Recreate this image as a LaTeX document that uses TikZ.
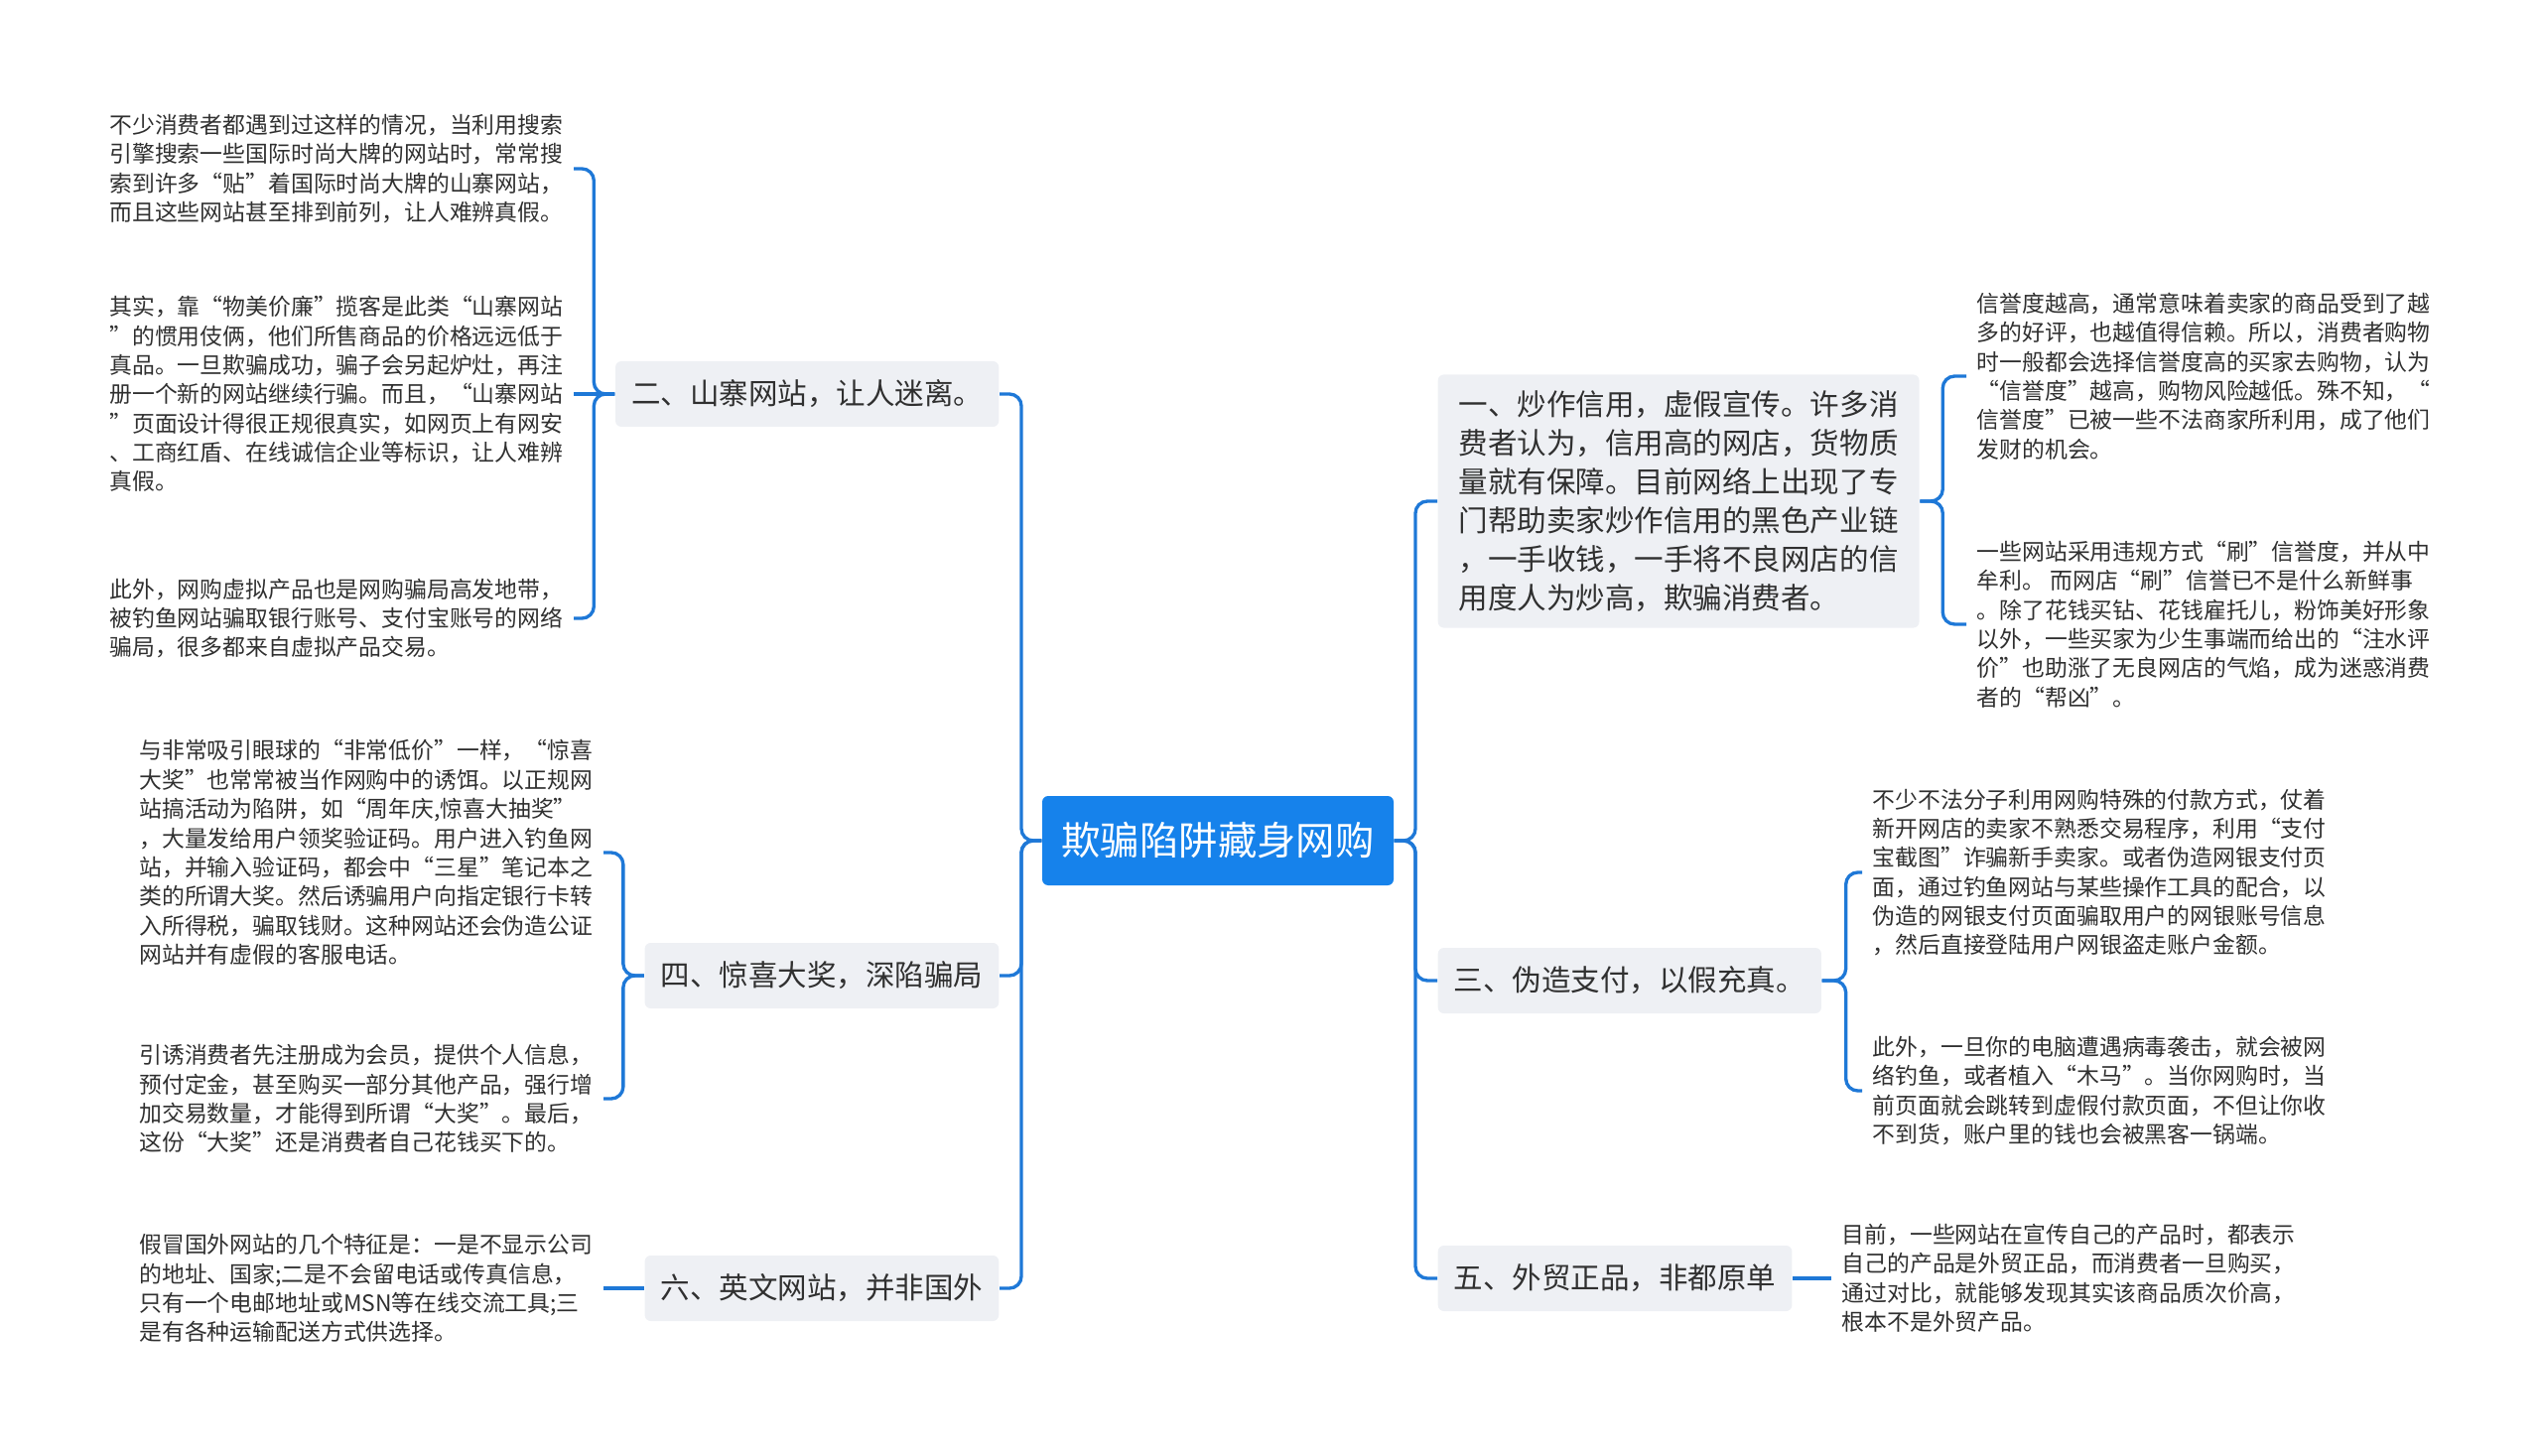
\documentclass[tikz,border=0pt]{standalone}
\usepackage{fontspec}
\setmainfont{Noto Sans CJK SC}
\definecolor{mapblue}{RGB}{22,130,235}
\definecolor{linkblue}{RGB}{30,120,215}
\definecolor{subgrey}{RGB}{238,240,244}
\definecolor{txtgrey}{RGB}{48,48,48}

\begin{document}
\begin{tikzpicture}[
    topic/.style={fill=mapblue, text=white, rounded corners=0.06cm, minimum width=3.54cm, minimum height=0.9cm, font=\fontsize{11.2pt}{13pt}\selectfont},
    sub/.style={fill=subgrey, text=txtgrey, rounded corners=0.06cm, inner xsep=0.16cm, inner ysep=0.16cm, minimum height=0.66cm, align=left, font=\fontsize{8.4pt}{11.1pt}\selectfont},
    note/.style={text=txtgrey, inner xsep=0.1cm, inner ysep=0cm, align=left, font=\fontsize{6.5pt}{8.35pt}\selectfont},
    link/.style={draw=linkblue, line width=0.95pt, rounded corners=0.12cm}]
    \useasboundingbox (0,0) rectangle (25.6,-14.67);

    % centre
    \node[topic] (root) at (12.27,-8.47) {欺骗陷阱藏身网购};
    \coordinate (lhub) at (10.29,-8.47);
    \coordinate (rhub) at (14.26,-8.47);

    % left side
    \node[sub, anchor=east] (b2) at (10.07,-3.97) {二、山寨网站，让人迷离。};
    \node[sub, anchor=east] (b4) at (10.07,-9.83) {四、惊喜大奖，深陷骗局};
    \node[sub, anchor=east] (b6) at (10.07,-12.98) {六、英文网站，并非国外};

    \node[note, anchor=east] (l2a) at (5.78,-1.70) {不少消费者都遇到过这样的情况，当利用搜索\\引擎搜索一些国际时尚大牌的网站时，常常搜\\索到许多“贴”着国际时尚大牌的山寨网站，\\而且这些网站甚至排到前列，让人难辨真假。};
    \node[note, anchor=east] (l2b) at (5.78,-3.97) {其实，靠“物美价廉”揽客是此类“山寨网站\\”的惯用伎俩，他们所售商品的价格远远低于\\真品。一旦欺骗成功，骗子会另起炉灶，再注\\册一个新的网站继续行骗。而且，“山寨网站\\”页面设计得很正规很真实，如网页上有网安\\、工商红盾、在线诚信企业等标识，让人难辨\\真假。};
    \node[note, anchor=east] (l2c) at (5.78,-6.23) {此外，网购虚拟产品也是网购骗局高发地带，\\被钓鱼网站骗取银行账号、支付宝账号的网络\\骗局，很多都来自虚拟产品交易。};
    \node[note, anchor=east] (l4a) at (6.08,-8.59) {与非常吸引眼球的“非常低价”一样，“惊喜\\大奖”也常常被当作网购中的诱饵。以正规网\\站搞活动为陷阱，如“周年庆,惊喜大抽奖”\\，大量发给用户领奖验证码。用户进入钓鱼网\\站，并输入验证码，都会中“三星”笔记本之\\类的所谓大奖。然后诱骗用户向指定银行卡转\\入所得税，骗取钱财。这种网站还会伪造公证\\网站并有虚假的客服电话。};
    \node[note, anchor=east] (l4b) at (6.08,-11.07) {引诱消费者先注册成为会员，提供个人信息，\\预付定金，甚至购买一部分其他产品，强行增\\加交易数量，才能得到所谓“大奖”。最后，\\这份“大奖”还是消费者自己花钱买下的。};
    \node[note, anchor=east] (l6) at (6.08,-12.98) {假冒国外网站的几个特征是：一是不显示公司\\的地址、国家;二是不会留电话或传真信息，\\只有一个电邮地址或MSN等在线交流工具;三\\是有各种运输配送方式供选择。};

    % right side
    \node[sub, anchor=west, inner xsep=0.21cm] (b1) at (14.48,-5.05) {一、炒作信用，虚假宣传。许多消\\费者认为，信用高的网店，货物质\\量就有保障。目前网络上出现了专\\门帮助卖家炒作信用的黑色产业链\\，一手收钱，一手将不良网店的信\\用度人为炒高，欺骗消费者。};
    \node[sub, anchor=west] (b3) at (14.48,-9.88) {三、伪造支付，以假充真。};
    \node[sub, anchor=west] (b5) at (14.48,-12.88) {五、外贸正品，非都原单};

    \node[note, anchor=west] (r1a) at (19.81,-3.79) {信誉度越高，通常意味着卖家的商品受到了越\\多的好评，也越值得信赖。所以，消费者购物\\时一般都会选择信誉度高的买家去购物，认为\\“信誉度”越高，购物风险越低。殊不知，“\\信誉度”已被一些不法商家所利用，成了他们\\发财的机会。};
    \node[note, anchor=west] (r1b) at (19.81,-6.29) {一些网站采用违规方式“刷”信誉度，并从中\\牟利。 而网店“刷”信誉已不是什么新鲜事\\。除了花钱买钻、花钱雇托儿，粉饰美好形象\\以外，一些买家为少生事端而给出的“注水评\\价”也助涨了无良网店的气焰，成为迷惑消费\\者的“帮凶”。};
    \node[note, anchor=west] (r3a) at (18.76,-8.79) {不少不法分子利用网购特殊的付款方式，仗着\\新开网店的卖家不熟悉交易程序，利用“支付\\宝截图”诈骗新手卖家。或者伪造网银支付页\\面，通过钓鱼网站与某些操作工具的配合，以\\伪造的网银支付页面骗取用户的网银账号信息\\，然后直接登陆用户网银盗走账户金额。};
    \node[note, anchor=west] (r3b) at (18.76,-10.99) {此外，一旦你的电脑遭遇病毒袭击，就会被网\\络钓鱼，或者植入“木马”。当你网购时，当\\前页面就会跳转到虚假付款页面，不但让你收\\不到货，账户里的钱也会被黑客一锅端。};
    \node[note, anchor=west] (r5) at (18.45,-12.88) {目前，一些网站在宣传自己的产品时，都表示\\自己的产品是外贸正品，而消费者一旦购买，\\通过对比，就能够发现其实该商品质次价高，\\根本不是外贸产品。};

    % connectors
    \draw[link] (root.west) -- (lhub) |- (b2.east);
    \draw[link] (root.west) -- (lhub) |- (b4.east);
    \draw[link] (root.west) -- (lhub) |- (b6.east);
    \draw[link] (root.east) -- (rhub) |- (b1.west);
    \draw[link] (root.east) -- (rhub) |- (b3.west);
    \draw[link] (root.east) -- (rhub) |- (b5.west);

    \draw[link] (b2.west) -- ++(-0.21,0) |- (l2a.east);
    \draw[link] (b2.west) -- (l2b.east);
    \draw[link] (b2.west) -- ++(-0.21,0) |- (l2c.east);
    \draw[link] (b4.west) -- ++(-0.21,0) |- (l4a.east);
    \draw[link] (b4.west) -- ++(-0.21,0) |- (l4b.east);
    \draw[link] (b6.west) -- (l6.east);
    \draw[link] (b1.east) -- ++(0.23,0) |- (r1a.west);
    \draw[link] (b1.east) -- ++(0.23,0) |- (r1b.west);
    \draw[link] (b3.east) -- ++(0.24,0) |- (r3a.west);
    \draw[link] (b3.east) -- ++(0.24,0) |- (r3b.west);
    \draw[link] (b5.east) -- (r5.west);
\end{tikzpicture}
\end{document}
